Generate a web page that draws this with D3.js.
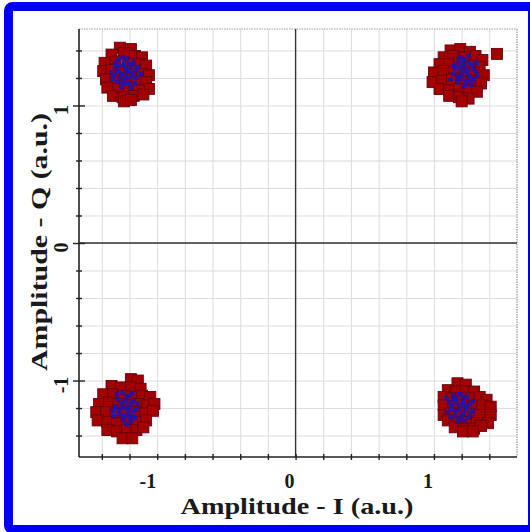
<!DOCTYPE html>
<html>
<head>
<meta charset="utf-8">
<script src="https://cdn.jsdelivr.net/npm/d3@7"></script>
<style>
  body { margin: 0; background: #fff; }
  svg { display: block; }
  text { font-family: "Liberation Serif", "Times New Roman", serif; font-weight: bold; fill: #1a1a1a; }
</style>
</head>
<body>
<svg width="530" height="532"></svg>
<script>
// received symbols (red squares), one list per quadrant
var redTL = [[-1.27,1.42],[-1.19,1.41],[-1.33,1.37],[-1.24,1.38],[-1.16,1.36],[-1.11,1.35],
  [-1.38,1.31],[-1.30,1.32],[-1.21,1.30],[-1.13,1.30],[-1.08,1.29],
  [-1.39,1.25],[-1.33,1.26],[-1.26,1.24],[-1.18,1.25],[-1.11,1.23],[-1.06,1.22],
  [-1.37,1.19],[-1.30,1.18],[-1.23,1.20],[-1.15,1.18],[-1.08,1.17],[-1.06,1.12],
  [-1.36,1.13],[-1.28,1.12],[-1.20,1.13],[-1.13,1.11],
  [-1.32,1.07],[-1.25,1.06],[-1.17,1.07],[-1.10,1.08],[-1.24,1.03],[-1.19,1.04]];
var redTR = [[1.12,1.40],[1.19,1.41],[1.26,1.39],
  [1.07,1.35],[1.14,1.36],[1.22,1.35],[1.30,1.36],[1.35,1.33],
  [1.04,1.30],[1.11,1.30],[1.18,1.31],[1.26,1.29],[1.33,1.28],
  [1.00,1.24],[1.07,1.25],[1.15,1.24],[1.22,1.23],[1.29,1.24],[1.36,1.22],
  [0.99,1.17],[1.06,1.18],[1.13,1.19],[1.20,1.17],[1.28,1.18],[1.34,1.16],
  [1.04,1.12],[1.11,1.11],[1.18,1.12],[1.25,1.11],[1.31,1.10],
  [1.11,1.07],[1.18,1.06],[1.25,1.05],[1.20,1.03],[1.455,1.375]];
var redBL = [[-1.19,-0.99],[-1.14,-1.00],
  [-1.33,-1.04],[-1.26,-1.05],[-1.19,-1.05],[-1.12,-1.06],
  [-1.39,-1.10],[-1.32,-1.10],[-1.25,-1.11],[-1.18,-1.12],[-1.11,-1.11],[-1.05,-1.12],
  [-1.42,-1.17],[-1.35,-1.16],[-1.28,-1.17],[-1.21,-1.18],[-1.14,-1.17],[-1.07,-1.18],[-1.02,-1.17],
  [-1.44,-1.23],[-1.37,-1.23],[-1.30,-1.24],[-1.23,-1.24],[-1.16,-1.23],[-1.09,-1.24],[-1.03,-1.22],
  [-1.43,-1.29],[-1.36,-1.30],[-1.29,-1.31],[-1.22,-1.30],[-1.15,-1.30],[-1.08,-1.29],
  [-1.36,-1.36],[-1.29,-1.37],[-1.22,-1.36],[-1.15,-1.36],[-1.10,-1.34],
  [-1.25,-1.42],[-1.18,-1.42]];
var redBR = [[1.17,-1.02],[1.23,-1.03],
  [1.10,-1.07],[1.16,-1.08],[1.23,-1.08],[1.29,-1.08],
  [1.07,-1.12],[1.13,-1.13],[1.20,-1.13],[1.27,-1.13],[1.33,-1.12],[1.38,-1.14],
  [1.07,-1.18],[1.14,-1.19],[1.21,-1.18],[1.28,-1.19],[1.35,-1.18],[1.41,-1.19],
  [1.07,-1.25],[1.12,-1.24],[1.19,-1.25],[1.26,-1.24],[1.33,-1.25],[1.41,-1.25],
  [1.10,-1.29],[1.17,-1.30],[1.24,-1.30],[1.31,-1.31],[1.39,-1.31],
  [1.15,-1.34],[1.22,-1.35],[1.29,-1.35],[1.34,-1.33],[1.21,-1.37],[1.28,-1.37]];

// reference symbols (blue), tighter spread
var blueTL = [[-1.28,1.33],[-1.22,1.34],[-1.30,1.27],[-1.25,1.29],[-1.19,1.28],[-1.15,1.26],
  [-1.31,1.22],[-1.26,1.23],[-1.22,1.24],[-1.18,1.21],[-1.24,1.18],[-1.29,1.17],[-1.20,1.16],
  [-1.15,1.20],[-1.26,1.13],[-1.21,1.20],[-1.23,1.27],[-1.17,1.31],[-1.33,1.24],[-1.12,1.23],
  [-1.27,1.20],[-1.19,1.13],[-1.30,1.31],[-1.25,1.35],[-1.20,1.30],[-1.14,1.28],[-1.28,1.25],
  [-1.23,1.21],[-1.17,1.24],[-1.32,1.19],[-1.22,1.16],[-1.16,1.16],[-1.25,1.16],[-1.29,1.29],
  [-1.20,1.25],[-1.24,1.31]];
var blueTR = [[1.16,1.30],[1.22,1.33],[1.27,1.30],[1.19,1.27],[1.24,1.26],[1.30,1.25],
  [1.14,1.23],[1.20,1.22],[1.26,1.21],[1.23,1.18],[1.17,1.17],[1.29,1.19],[1.21,1.14],
  [1.25,1.36],[1.31,1.31],[1.12,1.19],[1.18,1.33],[1.27,1.15],[1.22,1.29],[1.15,1.27],
  [1.19,1.35],[1.24,1.31],[1.28,1.27],[1.21,1.25],[1.17,1.21],[1.24,1.23],[1.19,1.19],
  [1.26,1.18],[1.14,1.29],[1.31,1.22],[1.20,1.30],[1.23,1.15]];
var blueBL = [[-1.25,-1.09],[-1.20,-1.11],[-1.28,-1.14],[-1.23,-1.15],[-1.17,-1.15],[-1.30,-1.19],
  [-1.25,-1.20],[-1.20,-1.19],[-1.15,-1.21],[-1.27,-1.24],[-1.22,-1.25],[-1.18,-1.26],
  [-1.24,-1.29],[-1.19,-1.30],[-1.31,-1.26],[-1.14,-1.17],[-1.29,-1.10],[-1.21,-1.22],
  [-1.22,-1.12],[-1.26,-1.17],[-1.19,-1.16],[-1.23,-1.19],[-1.17,-1.22],[-1.28,-1.21],
  [-1.25,-1.26],[-1.20,-1.27],[-1.22,-1.32],[-1.16,-1.27],[-1.32,-1.22],[-1.18,-1.09]];
var blueBR = [[1.14,-1.11],[1.19,-1.10],[1.24,-1.12],[1.11,-1.16],[1.16,-1.16],[1.21,-1.15],
  [1.26,-1.17],[1.13,-1.21],[1.18,-1.21],[1.23,-1.21],[1.28,-1.22],[1.15,-1.26],[1.20,-1.26],
  [1.25,-1.27],[1.17,-1.30],[1.10,-1.23],[1.22,-1.18],[1.09,-1.13],
  [1.16,-1.13],[1.21,-1.12],[1.13,-1.18],[1.19,-1.18],[1.24,-1.19],[1.16,-1.23],[1.21,-1.24],
  [1.26,-1.24],[1.12,-1.27],[1.18,-1.28],[1.22,-1.29],[1.14,-1.14],[1.28,-1.15]];

var gridVals  = [-1.4,-1.2,-1,-0.8,-0.6,-0.4,-0.2,0,0.2,0.4,0.6,0.8,1,1.2,1.4];
var tickVals  = [-1, 0, 1];
var xLabel = "Amplitude - I (a.u.)";
var yLabel = "Amplitude - Q (a.u.)";

var svg = d3.select("svg");

// blue frame
svg.append("rect")
  .attr("x", 8.5).attr("y", 6.5)
  .attr("width", 524).attr("height", 523)
  .attr("rx", 4)
  .attr("fill", "#fff")
  .attr("stroke", "#0000f5")
  .attr("stroke-width", 9);

var pL = 79, pR = 517, pT = 29, pB = 457;
var x = d3.scaleLinear().domain([-1.565, 1.6]).range([pL, pR]);
var y = d3.scaleLinear().domain([-1.556, 1.556]).range([pB, pT]);

// grid
svg.append("g")
  .attr("transform", "translate(0," + pB + ")")
  .call(d3.axisBottom(x).tickValues(gridVals).tickSize(-(pB - pT)).tickFormat(""))
  .call(function(g) { g.select(".domain").remove(); })
  .selectAll("line").attr("stroke", "#dcdcdc");
svg.append("g")
  .attr("transform", "translate(" + pL + ",0)")
  .call(d3.axisLeft(y).tickValues(gridVals).tickSize(-(pR - pL)).tickFormat(""))
  .call(function(g) { g.select(".domain").remove(); })
  .selectAll("line").attr("stroke", "#dcdcdc");

// top/right dotted frame
svg.append("line").attr("x1", pL).attr("x2", pR).attr("y1", pT).attr("y2", pT)
  .attr("stroke", "#a0a0a0").attr("stroke-dasharray", "1.5,1");
svg.append("line").attr("x1", pR).attr("x2", pR).attr("y1", pT).attr("y2", pB)
  .attr("stroke", "#808080").attr("stroke-dasharray", "1.5,1");

// zero lines
svg.append("line").attr("x1", x(0)).attr("x2", x(0)).attr("y1", pT).attr("y2", pB)
  .attr("stroke", "#333").attr("stroke-width", 1.3);
svg.append("line").attr("x1", pL).attr("x2", pR).attr("y1", y(0)).attr("y2", y(0))
  .attr("stroke", "#333").attr("stroke-width", 1.3);

// axes with crossing ticks
var xAxis = svg.append("g")
  .attr("transform", "translate(0," + pB + ")")
  .call(d3.axisBottom(x).tickValues(gridVals).tickSize(3).tickFormat(""));
xAxis.selectAll("line").attr("y1", -3).attr("stroke", "#222").attr("stroke-width", 1.4);
xAxis.select(".domain").attr("stroke", "#222").attr("stroke-width", 1.6).attr("d", "M" + pL + ",0H" + pR);

var yAxis = svg.append("g")
  .attr("transform", "translate(" + pL + ",0)")
  .call(d3.axisLeft(y).tickValues(gridVals).tickSize(3).tickFormat(""));
yAxis.selectAll("line").attr("x1", 3).attr("stroke", "#222").attr("stroke-width", 1.4);
yAxis.select(".domain").attr("stroke", "#222").attr("stroke-width", 1.6).attr("d", "M0," + pT + "V" + pB);
yAxis.selectAll(".tick").filter(function(d) { return tickVals.indexOf(d) >= 0; })
  .select("line").attr("x1", 6).attr("x2", -6);

// tick labels
var xl = svg.append("g")
  .attr("transform", "translate(0," + pB + ")")
  .call(d3.axisBottom(x).tickValues(tickVals).tickSize(0).tickFormat(function(d) { return String(d); }));
xl.select(".domain").remove();
xl.selectAll("text")
  .attr("y", 0).attr("dy", 0)
  .attr("transform", "translate(-1.5,31)")
  .attr("text-anchor", "end")
  .style("font-size", "20px").style("font-family", "Liberation Serif").style("font-weight", "bold")
  .attr("fill", "#1a1a1a");

var yl = svg.append("g")
  .attr("transform", "translate(" + pL + ",0)")
  .call(d3.axisLeft(y).tickValues(tickVals).tickSize(0).tickFormat(function(d) { return String(d); }));
yl.select(".domain").remove();
yl.selectAll("text")
  .attr("x", 0).attr("dy", 0)
  .attr("transform", "translate(-11,4) rotate(-90)")
  .attr("text-anchor", "middle")
  .style("font-size", "20px").style("font-family", "Liberation Serif").style("font-weight", "bold")
  .attr("fill", "#1a1a1a");

// axis titles
svg.append("text")
  .attr("x", 297).attr("y", 514)
  .attr("text-anchor", "middle")
  .attr("textLength", 233).attr("lengthAdjust", "spacingAndGlyphs")
  .style("font-size", "23px")
  .text(xLabel);
svg.append("text")
  .attr("transform", "translate(47,242) rotate(-90)")
  .attr("text-anchor", "middle")
  .attr("textLength", 258).attr("lengthAdjust", "spacingAndGlyphs")
  .style("font-size", "24px")
  .text(yLabel);

// points
var sq = 11;
var red = [].concat(redTL, redTR, redBL, redBR);
svg.append("g").selectAll("rect")
  .data(red).enter().append("rect")
  .attr("x", function(d) { return x(d[0]) - sq / 2; })
  .attr("y", function(d) { return y(d[1]) - sq / 2; })
  .attr("width", sq).attr("height", sq)
  .attr("fill", "#a30000")
  .attr("stroke", "#650010")
  .attr("stroke-width", 0.9);

var bs = 4.5;
var blue = [].concat(blueTL, blueTR, blueBL, blueBR);
svg.append("g").selectAll("rect")
  .data(blue).enter().append("rect")
  .attr("x", function(d) { return x(d[0]) - bs / 2; })
  .attr("y", function(d) { return y(d[1]) - bs / 2; })
  .attr("width", bs).attr("height", bs)
  .attr("fill", "#1a14b0")
  .attr("fill-opacity", 0.85);
</script>
</body>
</html>
